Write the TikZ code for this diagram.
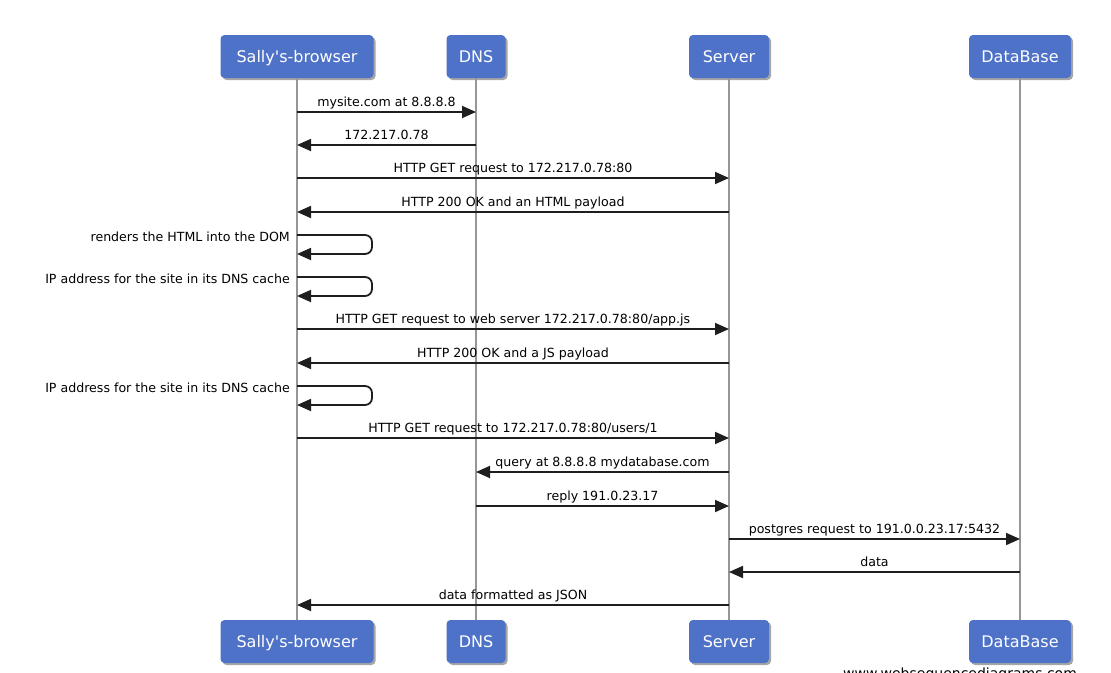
\documentclass[tikz,border=0pt]{standalone}
\usepackage{fontspec}
\setmainfont{DejaVu Sans}[Ligatures=TeXOff]
\usetikzlibrary{arrows.meta,shadows}
\definecolor{boxblue}{RGB}{78,114,200}
\definecolor{lifegray}{RGB}{150,150,150}
\definecolor{msgblack}{RGB}{30,30,30}
\tikzset{
  actor/.style={rounded corners=4pt, fill=boxblue, text=white, minimum height=43pt,
    inner sep=0pt, font=\fontsize{16}{19}\selectfont, text height=12pt, text depth=1pt,
    drop shadow={shadow xshift=2pt, shadow yshift=-2pt, opacity=0.35, fill=black}},
  lifeline/.style={draw=lifegray, line width=1.6pt},
  msg/.style={draw=msgblack, line width=1.8pt, -{Triangle[length=14pt,width=12pt]}},
  loopmsg/.style={msg, rounded corners=7pt},
  lbl/.style={anchor=base, font=\fontsize{12.6}{15}\selectfont, inner sep=0pt, yshift=5.5pt, text=black},
  sidelbl/.style={anchor=base east, font=\fontsize{12.6}{15}\selectfont, inner sep=0pt, text=black},
}
\begin{document}
\begin{tikzpicture}[x=1pt,y=-1pt]
\useasboundingbox (0,0) rectangle (1111,672);
\clip (0,0) rectangle (1111,672);
% actors top
\node[actor, minimum width=153pt] (sT) at (297,56.5) {Sally's-browser};
\node[actor, minimum width=59pt] (dT) at (476,56.5) {DNS};
\node[actor, minimum width=80pt] (vT) at (729,56.5) {Server};
\node[actor, minimum width=102pt] (bT) at (1020,56.5) {DataBase};
% actors bottom
\node[actor, minimum width=153pt] (sB) at (297,641.5) {Sally's-browser};
\node[actor, minimum width=59pt] (dB) at (476,641.5) {DNS};
\node[actor, minimum width=80pt] (vB) at (729,641.5) {Server};
\node[actor, minimum width=102pt] (bB) at (1020,641.5) {DataBase};
% lifelines
\draw[lifeline] (sT.south) -- (sB.north);
\draw[lifeline] (dT.south) -- (dB.north);
\draw[lifeline] (vT.south) -- (vB.north);
\draw[lifeline] (bT.south) -- (bB.north);
% messages
\draw[msg] (sT |- 0,112) -- node[lbl] (l1) {mysite.com at 8.8.8.8} (dT |- 0,112);
\draw[msg] (dT |- 0,145) -- node[lbl] (l2) {172.217.0.78} (sT |- 0,145);
\draw[msg] (sT |- 0,178) -- node[lbl] (l3) {HTTP GET request to 172.217.0.78:80} (vT |- 0,178);
\draw[msg] (vT |- 0,212) -- node[lbl] (l4) {HTTP 200 OK and an HTML payload} (sT |- 0,212);
\draw[loopmsg] (sT |- 0,235) -- ++(75,0) -- ++(0,19) -- (sT |- 0,254);
\node[sidelbl] (l5) at (290,241) {renders the HTML into the DOM};
\draw[loopmsg] (sT |- 0,277) -- ++(75,0) -- ++(0,19) -- (sT |- 0,296);
\node[sidelbl] (l6) at (290,283) {IP address for the site in its DNS cache};
\draw[msg] (sT |- 0,329) -- node[lbl] (l7) {HTTP GET request to web server 172.217.0.78:80/app.js} (vT |- 0,329);
\draw[msg] (vT |- 0,363) -- node[lbl] (l8) {HTTP 200 OK and a JS payload} (sT |- 0,363);
\draw[loopmsg] (sT |- 0,386) -- ++(75,0) -- ++(0,19) -- (sT |- 0,405);
\node[sidelbl] (l9) at (290,392) {IP address for the site in its DNS cache};
\draw[msg] (sT |- 0,438) -- node[lbl] (l10) {HTTP GET request to 172.217.0.78:80/users/1} (vT |- 0,438);
\draw[msg] (vT |- 0,472) -- node[lbl] (l11) {query at 8.8.8.8 mydatabase.com} (dT |- 0,472);
\draw[msg] (dT |- 0,506) -- node[lbl] (l12) {reply 191.0.23.17} (vT |- 0,506);
\draw[msg] (vT |- 0,539) -- node[lbl] (l13) {postgres request to 191.0.0.23.17:5432} (bT |- 0,539);
\draw[msg] (bT |- 0,572) -- node[lbl] (l14) {data} (vT |- 0,572);
\draw[msg] (vT |- 0,605) -- node[lbl] (l15) {data formatted as JSON} (sT |- 0,605);
% watermark (cut off at the bottom edge, as in the reference)
\node[anchor=base, font=\fontsize{14}{16}\selectfont, inner sep=0pt] (wm) at (960,678) {www.websequencediagrams.com};
\end{tikzpicture}
\end{document}
